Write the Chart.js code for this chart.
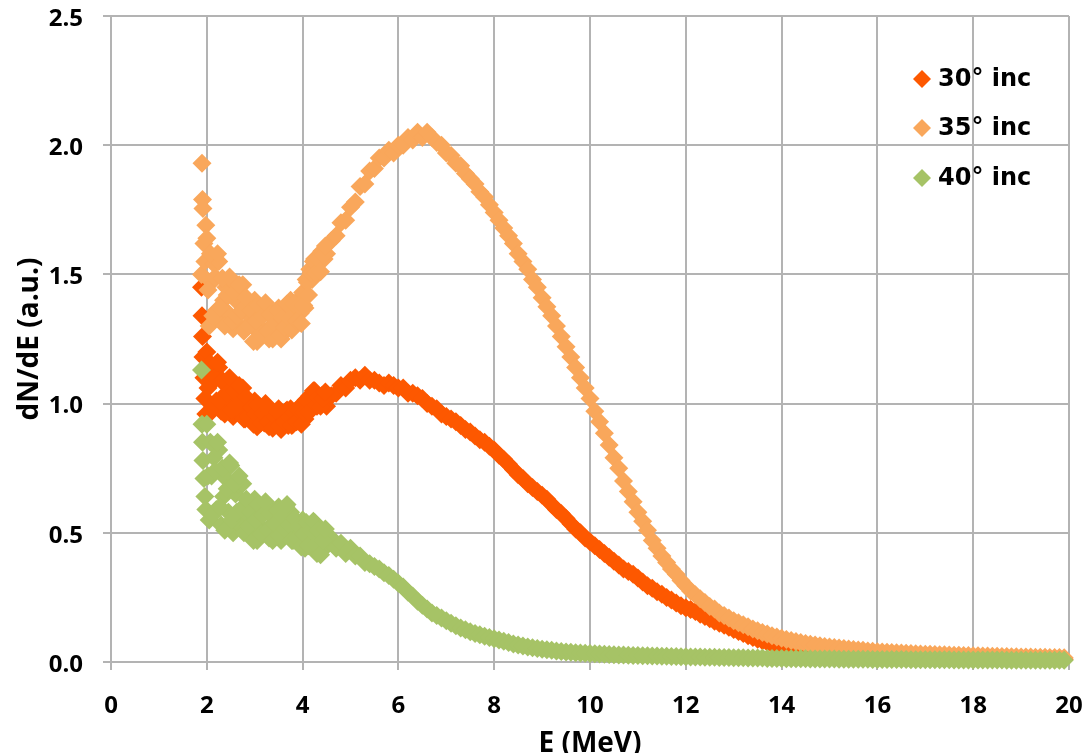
<!DOCTYPE html>
<html>
<head>
<meta charset="utf-8">
<script src="https://cdn.jsdelivr.net/npm/chart.js@4.4.1/dist/chart.umd.min.js"></script>
<style>
  html, body { margin: 0; padding: 0; background: #ffffff; }
  #wrap { width: 1086px; height: 753px; position: relative; overflow: hidden; }
</style>
</head>
<body>
<div id="wrap"><canvas id="c" width="1086" height="753"></canvas></div>
<script>
// ---- Data ----
// energy grid: dense noisy part (1.89-4.45), smooth part (4.5-19.9), extra dense points (2.025-4.475)
const energy = [
  1.89,1.90,1.91,1.92,1.94,1.96,1.98,
  2.00,2.05,2.10,2.15,2.20,2.25,2.30,2.35,2.40,2.45,
  2.50,2.55,2.60,2.65,2.70,2.75,2.80,2.85,2.90,2.95,
  3.00,3.05,3.10,3.15,3.20,3.25,3.30,3.35,3.40,3.45,
  3.50,3.55,3.60,3.65,3.70,3.75,3.80,3.85,3.90,3.95,
  4.00,4.05,4.10,4.15,4.20,4.25,4.30,4.35,4.40,4.45,
  4.5,4.6,4.7,4.8,4.9,5.0,5.1,5.2,5.3,5.4,
  5.5,5.6,5.7,5.8,5.9,6.0,6.1,6.2,6.3,6.4,
  6.5,6.6,6.7,6.8,6.9,7.0,7.1,7.2,7.3,7.4,
  7.5,7.6,7.7,7.8,7.9,8.0,8.1,8.2,8.3,8.4,
  8.5,8.6,8.7,8.8,8.9,9.0,9.1,9.2,9.3,9.4,
  9.5,9.6,9.7,9.8,9.9,10.0,10.1,10.2,10.3,10.4,
  10.5,10.6,10.7,10.8,10.9,11.0,11.1,11.2,11.3,11.4,
  11.5,11.6,11.7,11.8,11.9,12.0,12.1,12.2,12.3,12.4,
  12.5,12.6,12.7,12.8,12.9,13.0,13.1,13.2,13.3,13.4,
  13.5,13.6,13.7,13.8,13.9,14.0,14.1,14.2,14.3,14.4,
  14.5,14.6,14.7,14.8,14.9,15.0,15.1,15.2,15.3,15.4,
  15.5,15.6,15.7,15.8,15.9,16.0,16.1,16.2,16.3,16.4,
  16.5,16.6,16.7,16.8,16.9,17.0,17.1,17.2,17.3,17.4,
  17.5,17.6,17.7,17.8,17.9,18.0,18.1,18.2,18.3,18.4,
  18.5,18.6,18.7,18.8,18.9,19.0,19.1,19.2,19.3,19.4,
  19.5,19.6,19.7,19.8,19.9,
  2.025,2.075,2.125,2.175,2.225,2.275,2.325,2.375,2.425,2.475,
  2.525,2.575,2.625,2.675,2.725,2.775,2.825,2.875,2.925,2.975,
  3.025,3.075,3.125,3.175,3.225,3.275,3.325,3.375,3.425,3.475,
  3.525,3.575,3.625,3.675,3.725,3.775,3.825,3.875,3.925,3.975,
  4.025,4.075,4.125,4.175,4.225,4.275,4.325,4.375,4.425,4.475
];

const inc30 = [
  1.45,1.34,1.26,1.18,1.10,1.02,0.96,
  1.20,0.96,1.08,1.13,1.01,1.14,0.97,1.03,1.07,0.99,
  1.09,0.95,1.03,1.06,0.96,1.06,0.94,0.98,1.00,0.96,
  1.01,0.91,0.96,0.98,0.925,0.98,0.91,0.94,0.96,0.925,
  0.98,0.90,0.95,0.97,0.915,0.98,0.92,0.95,0.98,0.95,
  1.00,0.94,1.00,1.03,0.99,1.05,0.99,1.01,1.03,1.01,
  0.99,1.03,1.04,1.07,1.06,1.09,1.10,1.09,1.11,1.09,
  1.09,1.08,1.07,1.08,1.07,1.06,1.06,1.04,1.04,1.03,
  1.02,1.00,0.99,0.98,0.96,0.95,0.94,0.93,0.915,0.90,
  0.89,0.875,0.86,0.85,0.835,0.82,0.80,0.785,0.765,0.745,
  0.725,0.71,0.69,0.675,0.66,0.645,0.63,0.61,0.59,0.575,
  0.555,0.535,0.515,0.50,0.48,0.465,0.45,0.435,0.42,0.405,
  0.39,0.375,0.36,0.35,0.34,0.325,0.31,0.295,0.285,0.272,
  0.262,0.25,0.24,0.228,0.218,0.21,0.203,0.195,0.185,0.176,
  0.167,0.158,0.15,0.142,0.134,0.126,0.118,0.11,0.102,0.095,
  0.088,0.082,0.076,0.07,0.065,0.06,0.056,0.052,0.049,0.046,
  0.043,0.041,0.039,0.037,0.035,0.033,0.032,0.031,0.030,0.029,
  0.028,0.027,0.026,0.025,0.024,0.024,0.023,0.022,0.022,0.021,
  0.021,0.020,0.020,0.019,0.019,0.018,0.018,0.017,0.017,0.017,
  0.016,0.016,0.016,0.015,0.015,0.015,0.015,0.014,0.014,0.014,
  0.014,0.013,0.013,0.013,0.013,0.013,0.013,0.012,0.012,0.012,
  0.012,0.012,0.011,0.011,0.011,
  1.06,1.155,0.99,1.10,1.16,1.01,1.09,0.96,1.04,1.10,
  0.975,1.05,0.99,1.07,1.00,0.94,1.025,0.95,0.985,0.92,
  0.96,0.995,0.925,0.965,1.00,0.93,0.97,0.905,0.95,0.97,
  0.915,0.955,0.93,0.975,0.945,0.915,0.965,0.93,0.97,0.92,
  0.965,1.015,0.965,1.02,1.05,0.995,1.025,0.99,1.02,1.045
];

const inc35 = [
  1.50,1.93,1.79,1.755,1.62,1.55,1.69,
  1.64,1.30,1.47,1.54,1.36,1.55,1.32,1.40,1.45,1.35,
  1.48,1.29,1.40,1.44,1.30,1.46,1.29,1.345,1.385,1.30,
  1.40,1.24,1.33,1.36,1.28,1.37,1.25,1.30,1.33,1.28,
  1.37,1.25,1.33,1.37,1.29,1.40,1.30,1.355,1.40,1.35,
  1.43,1.37,1.47,1.52,1.48,1.56,1.51,1.55,1.59,1.56,
  1.58,1.63,1.65,1.70,1.71,1.76,1.78,1.84,1.85,1.90,
  1.91,1.95,1.95,1.98,1.97,2.00,2.00,2.03,2.02,2.05,
  2.03,2.05,2.03,2.01,2.00,1.97,1.96,1.93,1.92,1.89,
  1.87,1.85,1.82,1.80,1.77,1.74,1.71,1.68,1.65,1.62,
  1.58,1.55,1.52,1.48,1.45,1.41,1.375,1.34,1.30,1.26,
  1.22,1.18,1.14,1.10,1.06,1.02,0.97,0.93,0.885,0.84,
  0.79,0.75,0.70,0.66,0.62,0.58,0.545,0.51,0.47,0.44,
  0.41,0.385,0.36,0.34,0.315,0.295,0.275,0.26,0.245,0.23,
  0.215,0.205,0.19,0.18,0.17,0.16,0.152,0.144,0.136,0.128,
  0.121,0.114,0.108,0.102,0.097,0.092,0.087,0.083,0.079,0.075,
  0.072,0.069,0.066,0.063,0.060,0.058,0.056,0.054,0.052,0.050,
  0.048,0.046,0.045,0.043,0.042,0.040,0.039,0.038,0.037,0.036,
  0.035,0.034,0.033,0.032,0.031,0.030,0.030,0.029,0.028,0.028,
  0.027,0.026,0.026,0.025,0.025,0.024,0.024,0.023,0.023,0.022,
  0.022,0.021,0.021,0.020,0.020,0.019,0.019,0.019,0.018,0.018,
  0.018,0.017,0.017,0.017,0.016,
  1.44,1.58,1.34,1.49,1.58,1.37,1.485,1.30,1.42,1.49,
  1.32,1.43,1.34,1.46,1.36,1.28,1.41,1.30,1.36,1.24,
  1.32,1.38,1.265,1.34,1.39,1.28,1.345,1.25,1.31,1.36,
  1.265,1.33,1.295,1.385,1.33,1.285,1.385,1.32,1.38,1.31,
  1.38,1.48,1.42,1.505,1.55,1.505,1.56,1.51,1.575,1.61
];

const inc40 = [
  1.13,0.92,0.85,0.78,0.71,0.64,0.59,
  0.92,0.55,0.72,0.79,0.59,0.82,0.53,0.64,0.71,0.58,
  0.76,0.50,0.65,0.69,0.53,0.69,0.51,0.57,0.61,0.53,
  0.63,0.47,0.56,0.60,0.51,0.60,0.48,0.53,0.56,0.50,
  0.60,0.47,0.56,0.60,0.49,0.58,0.47,0.51,0.54,0.49,
  0.55,0.44,0.50,0.53,0.45,0.54,0.42,0.47,0.49,0.44,
  0.45,0.48,0.44,0.46,0.42,0.44,0.41,0.41,0.385,0.38,
  0.37,0.36,0.345,0.335,0.32,0.305,0.29,0.27,0.255,0.235,
  0.22,0.205,0.19,0.18,0.17,0.16,0.15,0.14,0.132,0.125,
  0.117,0.11,0.105,0.10,0.095,0.09,0.085,0.08,0.075,0.07,
  0.066,0.062,0.058,0.055,0.052,0.049,0.047,0.045,0.043,0.041,
  0.039,0.038,0.036,0.035,0.034,0.033,0.032,0.031,0.030,0.029,
  0.028,0.027,0.027,0.026,0.025,0.025,0.024,0.024,0.023,0.023,
  0.022,0.022,0.021,0.021,0.020,0.020,0.019,0.019,0.019,0.018,
  0.018,0.018,0.017,0.017,0.017,0.016,0.016,0.016,0.015,0.015,
  0.015,0.015,0.014,0.014,0.014,0.014,0.013,0.013,0.013,0.013,
  0.013,0.012,0.012,0.012,0.012,0.012,0.012,0.011,0.011,0.011,
  0.011,0.011,0.011,0.011,0.010,0.010,0.010,0.010,0.010,0.010,
  0.010,0.010,0.009,0.009,0.009,0.009,0.009,0.009,0.009,0.009,
  0.009,0.008,0.008,0.008,0.008,0.008,0.008,0.008,0.008,0.008,
  0.008,0.008,0.007,0.007,0.007,0.007,0.007,0.007,0.007,0.007,
  0.007,0.007,0.007,0.007,0.007,
  0.72,0.85,0.57,0.74,0.85,0.60,0.75,0.51,0.67,0.77,
  0.55,0.69,0.58,0.72,0.595,0.50,0.63,0.525,0.58,0.47,
  0.55,0.61,0.495,0.57,0.62,0.51,0.575,0.47,0.535,0.585,
  0.49,0.565,0.515,0.61,0.53,0.47,0.555,0.48,0.525,0.445,
  0.495,0.54,0.45,0.51,0.545,0.455,0.51,0.415,0.47,0.515
];

const seriesLabels = ['30° inc', '35° inc', '40° inc'];
const seriesColors = ['#fd5800', '#f9a75b', '#a6c366'];
const xTitle = 'E (MeV)';
const yTitle = 'dN/dE (a.u.)';

// ---- build ----
function pts(vals) { return vals.map((v, i) => ({ x: energy[i], y: v })); }

const legendPlugin = {
  id: 'insideLegend',
  afterDraw(chart) {
    const ctx = chart.ctx;
    ctx.save();
    const rows = [79, 128, 178];
    ctx.font = 'bold 24px "DejaVu Sans"';
    ctx.textBaseline = 'middle';
    ctx.textAlign = 'left';
    seriesLabels.forEach((lab, i) => {
      const y = rows[i];
      const x = 922, r = 9;
      ctx.fillStyle = seriesColors[i];
      ctx.beginPath();
      ctx.moveTo(x - r, y); ctx.lineTo(x, y - r); ctx.lineTo(x + r, y); ctx.lineTo(x, y + r);
      ctx.closePath(); ctx.fill();
      ctx.fillStyle = '#000000';
      ctx.fillText(lab, 938, y + 1);
    });
    ctx.restore();
  }
};

const gridColor = '#b3b3b3';
const tickFont = { family: 'Open Sans', weight: 'bold', size: 24 };

new Chart(document.getElementById('c'), {
  type: 'scatter',
  data: {
    datasets: [
      { label: seriesLabels[0], data: pts(inc30), backgroundColor: seriesColors[0], order: 3 },
      { label: seriesLabels[1], data: pts(inc35), backgroundColor: seriesColors[1], order: 2 },
      { label: seriesLabels[2], data: pts(inc40), backgroundColor: seriesColors[2], order: 1 }
    ].map(d => Object.assign(d, {
      pointStyle: 'rectRot', pointRadius: 9.5, pointHoverRadius: 9.5,
      pointBorderWidth: 0, borderWidth: 0, showLine: false, clip: false
    }))
  },
  options: {
    responsive: false,
    animation: false,
    events: [],
    layout: { padding: { top: 16, right: 17, left: 0, bottom: 0 } },
    plugins: { legend: { display: false }, tooltip: { enabled: false } },
    scales: {
      x: {
        type: 'linear', min: 0, max: 20,
        ticks: { stepSize: 2, font: tickFont, color: '#000', padding: 22, maxRotation: 0 },
        grid: { color: gridColor, lineWidth: 2, tickLength: 8, drawTicks: true },
        border: { color: gridColor, width: 2 },
        title: { display: true, text: xTitle, color: '#000',
                 font: { family: 'Open Sans', weight: 'bold', size: 28, lineHeight: 1 },
                 padding: { top: 0, bottom: -5 } },
        afterFit(s) { s.height = 91; s.paddingLeft = 0; s.paddingRight = 0; }
      },
      y: {
        type: 'linear', min: 0, max: 2.5,
        ticks: { stepSize: 0.5, font: tickFont, color: '#000', padding: 20, labelOffset: 3,
                 callback: v => Number(v).toFixed(1) },
        grid: { color: gridColor, lineWidth: 2, tickLength: 8, drawTicks: true },
        border: { color: gridColor, width: 2 },
        title: { display: true, text: yTitle, color: '#000',
                 font: { family: 'Open Sans', weight: 'bold', size: 28, lineHeight: 1 },
                 padding: { top: 16, bottom: 0 } },
        afterFit(s) { s.width = 111; s.paddingTop = 0; s.paddingBottom = 0; }
      }
    }
  },
  plugins: [legendPlugin]
});
</script>
</body>
</html>
